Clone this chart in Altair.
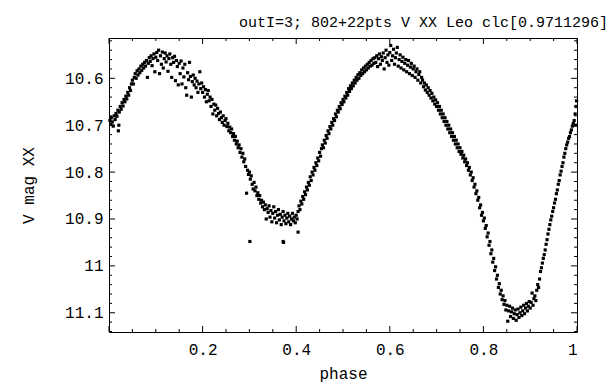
import altair as alt
import pandas as pd

# ---- data: (phase, V mag) ----
seg_00 = [(0.002,10.690),(0.004,10.698),(0.005,10.684),(0.007,10.693),(0.009,10.702),(0.011,10.680),(0.013,10.688),(0.015,10.675),(0.017,10.681),(0.019,10.668),(0.021,10.700),(0.022,10.672),(0.024,10.660),(0.026,10.666),(0.028,10.652),(0.030,10.659),(0.032,10.645),(0.034,10.650),(0.036,10.638),(0.038,10.644),(0.040,10.630),(0.042,10.636),(0.044,10.620),(0.046,10.626),(0.048,10.612)]
seg_05 = [(0.050,10.604),(0.052,10.612),(0.054,10.598),(0.056,10.590),(0.058,10.600),(0.060,10.584),(0.062,10.593),(0.064,10.580),(0.066,10.588),(0.068,10.574),(0.070,10.583),(0.072,10.570),(0.074,10.578),(0.076,10.566),(0.078,10.574),(0.080,10.562),(0.082,10.598),(0.084,10.568),(0.086,10.556),(0.088,10.564),(0.090,10.552),(0.092,10.573),(0.094,10.558),(0.096,10.548),(0.098,10.586)]
seg_10 = [(0.100,10.555),(0.102,10.545),(0.104,10.562),(0.106,10.540),(0.108,10.590),(0.110,10.552),(0.112,10.570),(0.114,10.544),(0.116,10.578),(0.118,10.558),(0.120,10.546),(0.122,10.565),(0.124,10.552),(0.126,10.585),(0.128,10.558),(0.130,10.548),(0.132,10.570),(0.134,10.598),(0.136,10.556),(0.138,10.566),(0.140,10.553),(0.142,10.605),(0.144,10.562),(0.146,10.575),(0.148,10.614)]
seg_15 = [(0.150,10.568),(0.152,10.590),(0.154,10.563),(0.156,10.612),(0.158,10.578),(0.160,10.597),(0.162,10.570),(0.164,10.620),(0.166,10.636),(0.168,10.588),(0.170,10.603),(0.172,10.566),(0.174,10.596),(0.176,10.640),(0.178,10.607),(0.180,10.593),(0.182,10.614),(0.184,10.600),(0.186,10.620),(0.188,10.606),(0.190,10.630),(0.192,10.612),(0.194,10.586),(0.196,10.622),(0.198,10.610)]
seg_20 = [(0.200,10.630),(0.202,10.618),(0.204,10.640),(0.206,10.624),(0.208,10.650),(0.210,10.634),(0.212,10.626),(0.214,10.648),(0.216,10.640),(0.218,10.660),(0.220,10.645),(0.222,10.676),(0.224,10.655),(0.226,10.668),(0.228,10.657),(0.230,10.680),(0.232,10.664),(0.234,10.675),(0.236,10.688),(0.238,10.672),(0.240,10.684),(0.242,10.694),(0.244,10.680),(0.246,10.700),(0.248,10.690)]
seg_25 = [(0.250,10.686),(0.252,10.703),(0.254,10.696),(0.256,10.712),(0.258,10.704),(0.260,10.716),(0.262,10.708),(0.264,10.724),(0.266,10.718),(0.268,10.732),(0.270,10.724),(0.272,10.740),(0.274,10.734),(0.276,10.748),(0.278,10.742),(0.280,10.758),(0.282,10.750),(0.284,10.768),(0.286,10.760),(0.288,10.778),(0.290,10.772),(0.292,10.788),(0.294,10.845),(0.296,10.796),(0.298,10.805)]
seg_30 = [(0.300,10.800),(0.302,10.815),(0.304,10.808),(0.306,10.826),(0.308,10.836),(0.310,10.822),(0.312,10.840),(0.314,10.832),(0.316,10.850),(0.318,10.844),(0.320,10.858),(0.322,10.850),(0.324,10.866),(0.326,10.860),(0.328,10.874),(0.330,10.864),(0.332,10.880),(0.334,10.870),(0.336,10.900),(0.338,10.878),(0.340,10.886),(0.342,10.872),(0.344,10.896),(0.346,10.882),(0.348,10.906)]
seg_35 = [(0.350,10.888),(0.352,10.874),(0.354,10.898),(0.356,10.884),(0.358,10.908),(0.360,10.892),(0.362,10.880),(0.364,10.902),(0.366,10.890),(0.368,10.912),(0.370,10.896),(0.372,10.884),(0.374,10.904),(0.376,10.892),(0.378,10.910),(0.380,10.898),(0.382,10.888),(0.384,10.906),(0.386,10.894),(0.388,10.912),(0.390,10.900),(0.392,10.888),(0.394,10.904),(0.396,10.896),(0.398,10.908)]
seg_40 = [(0.400,10.892),(0.402,10.900),(0.404,10.884),(0.406,10.872),(0.408,10.880),(0.410,10.862),(0.412,10.868),(0.414,10.852),(0.416,10.858),(0.418,10.842),(0.420,10.848),(0.422,10.832),(0.424,10.838),(0.426,10.822),(0.428,10.828),(0.430,10.810),(0.432,10.818),(0.434,10.800),(0.436,10.806),(0.438,10.790),(0.440,10.796),(0.442,10.780),(0.444,10.786),(0.446,10.770),(0.448,10.776)]
seg_45 = [(0.450,10.758),(0.452,10.766),(0.454,10.750),(0.456,10.742),(0.458,10.748),(0.460,10.732),(0.462,10.738),(0.464,10.722),(0.466,10.728),(0.468,10.712),(0.470,10.718),(0.472,10.703),(0.474,10.708),(0.476,10.694),(0.478,10.700),(0.480,10.686),(0.482,10.690),(0.484,10.676),(0.486,10.682),(0.488,10.668),(0.490,10.672),(0.492,10.660),(0.494,10.665),(0.496,10.652),(0.498,10.656)]
seg_50 = [(0.500,10.645),(0.502,10.650),(0.504,10.638),(0.506,10.642),(0.508,10.630),(0.510,10.636),(0.512,10.622),(0.514,10.628),(0.516,10.616),(0.518,10.622),(0.520,10.610),(0.522,10.616),(0.524,10.604),(0.526,10.610),(0.528,10.598),(0.530,10.604),(0.532,10.592),(0.534,10.600),(0.536,10.588),(0.538,10.594),(0.540,10.582),(0.542,10.590),(0.544,10.578),(0.546,10.586),(0.548,10.574)]
seg_55 = [(0.550,10.582),(0.552,10.570),(0.554,10.578),(0.556,10.566),(0.558,10.574),(0.560,10.562),(0.562,10.572),(0.564,10.558),(0.566,10.568),(0.568,10.556),(0.570,10.566),(0.572,10.552),(0.574,10.575),(0.576,10.558),(0.578,10.548),(0.580,10.570),(0.582,10.554),(0.584,10.562),(0.586,10.546),(0.588,10.580),(0.590,10.556),(0.592,10.540),(0.594,10.566),(0.596,10.550),(0.598,10.572)]
seg_60 = [(0.600,10.545),(0.602,10.530),(0.604,10.562),(0.606,10.552),(0.608,10.538),(0.610,10.570),(0.612,10.556),(0.614,10.546),(0.616,10.534),(0.618,10.574),(0.620,10.560),(0.622,10.550),(0.624,10.578),(0.626,10.564),(0.628,10.555),(0.630,10.582),(0.632,10.568),(0.634,10.560),(0.636,10.586),(0.638,10.572),(0.640,10.562),(0.642,10.590),(0.644,10.576),(0.646,10.568),(0.648,10.594)]
seg_65 = [(0.650,10.580),(0.652,10.574),(0.654,10.598),(0.656,10.586),(0.658,10.580),(0.660,10.604),(0.662,10.592),(0.664,10.586),(0.666,10.610),(0.668,10.598),(0.670,10.604),(0.672,10.618),(0.674,10.610),(0.676,10.625),(0.678,10.614),(0.680,10.630),(0.682,10.620),(0.684,10.636),(0.686,10.626),(0.688,10.642),(0.690,10.632),(0.692,10.648),(0.694,10.640),(0.696,10.655),(0.698,10.646)]
seg_70 = [(0.700,10.660),(0.702,10.652),(0.704,10.668),(0.706,10.660),(0.708,10.676),(0.710,10.668),(0.712,10.684),(0.714,10.676),(0.716,10.692),(0.718,10.684),(0.720,10.700),(0.722,10.692),(0.724,10.708),(0.726,10.700),(0.728,10.716),(0.730,10.708),(0.732,10.724),(0.734,10.716),(0.736,10.732),(0.738,10.724),(0.740,10.740),(0.742,10.732),(0.744,10.748),(0.746,10.740),(0.748,10.756)]
seg_75 = [(0.750,10.748),(0.752,10.762),(0.754,10.756),(0.756,10.770),(0.758,10.764),(0.760,10.778),(0.762,10.772),(0.764,10.786),(0.766,10.780),(0.768,10.796),(0.770,10.790),(0.772,10.806),(0.774,10.800),(0.776,10.818),(0.778,10.812),(0.780,10.832),(0.782,10.826),(0.784,10.846),(0.786,10.840),(0.788,10.860),(0.790,10.854),(0.792,10.876),(0.794,10.870),(0.796,10.892),(0.798,10.886)]
seg_80 = [(0.800,10.904),(0.802,10.898),(0.804,10.920),(0.806,10.914),(0.808,10.938),(0.810,10.930),(0.812,10.956),(0.814,10.948),(0.816,10.974),(0.818,10.966),(0.820,10.992),(0.822,10.984),(0.824,11.010),(0.826,11.002),(0.828,11.028),(0.830,11.020),(0.832,11.046),(0.834,11.038),(0.836,11.060),(0.838,11.052),(0.840,11.072),(0.842,11.064),(0.844,11.082),(0.846,11.074),(0.848,11.094)]
seg_85 = [(0.850,11.084),(0.852,11.118),(0.854,11.096),(0.856,11.086),(0.858,11.108),(0.860,11.098),(0.862,11.090),(0.864,11.112),(0.866,11.102),(0.868,11.094),(0.870,11.116),(0.872,11.104),(0.874,11.092),(0.876,11.110),(0.878,11.100),(0.880,11.088),(0.882,11.106),(0.884,11.096),(0.886,11.084),(0.888,11.102),(0.890,11.090),(0.892,11.080),(0.894,11.096),(0.896,11.086),(0.898,11.076)]
seg_90 = [(0.900,11.090),(0.902,11.078),(0.904,11.058),(0.906,11.084),(0.908,11.070),(0.910,11.064),(0.912,11.074),(0.914,11.052),(0.916,11.040),(0.918,11.046),(0.920,11.028),(0.922,11.012),(0.924,11.004),(0.926,10.994),(0.928,10.984),(0.930,10.976),(0.932,10.966),(0.934,10.954),(0.936,10.944),(0.938,10.932),(0.940,10.922),(0.942,10.912),(0.944,10.902),(0.946,10.894),(0.948,10.884)]
seg_95 = [(0.950,10.876),(0.952,10.866),(0.954,10.858),(0.956,10.846),(0.958,10.838),(0.960,10.826),(0.962,10.818),(0.964,10.806),(0.966,10.798),(0.968,10.788),(0.970,10.780),(0.972,10.768),(0.974,10.760),(0.976,10.750),(0.978,10.742),(0.980,10.736),(0.982,10.728),(0.984,10.724),(0.986,10.716),(0.988,10.710),(0.990,10.702),(0.992,10.696),(0.994,10.690),(0.996,10.676),(0.998,10.660),(0.999,10.648),(0.997,10.700)]
outliers = [(0.301,10.948),(0.372,10.948),(0.373,10.950),(0.404,10.928),(0.020,10.712)]

x_major = [0, 0.2, 0.4, 0.6, 0.8, 1]
x_minor = [0.05, 0.1, 0.15, 0.25, 0.3, 0.35, 0.45, 0.5, 0.55, 0.65, 0.7, 0.75, 0.85, 0.9, 0.95]
x_labels = [0.2, 0.4, 0.6, 0.8, 1]
y_major = [10.6, 10.7, 10.8, 10.9, 11.0, 11.1]
y_minor = [10.52, 10.54, 10.56, 10.58, 10.62, 10.64, 10.66, 10.68, 10.72, 10.74, 10.76, 10.78,
           10.82, 10.84, 10.86, 10.88, 10.92, 10.94, 10.96, 10.98, 11.02, 11.04, 11.06, 11.08,
           11.12, 11.14]

TITLE = "outI=3; 802+22pts V XX Leo clc[0.9711296]"
FONT = "Liberation Mono"
W, H = 468, 294
MAJ, MIN = 6, 3

segments = [seg_00, seg_05, seg_10, seg_15, seg_20, seg_25, seg_30, seg_35, seg_40, seg_45,
            seg_50, seg_55, seg_60, seg_65, seg_70, seg_75, seg_80, seg_85, seg_90, seg_95, outliers]
rows = [p for s in segments for p in s]
df = pd.DataFrame(rows, columns=["phase", "mag"])

TXT = dict(labelFont=FONT, labelFontSize=16, labelColor="black",
           titleFont=FONT, titleFontSize=16, titleFontWeight="normal", titleColor="black")

xs = alt.Scale(domain=[0, 1], nice=False, zero=False)
ys = alt.Scale(domain=[10.514, 11.141], nice=False, zero=False, reverse=True)
x_axis = alt.Axis(values=x_labels, title="phase", ticks=False, domain=False, grid=False,
                  labelExpr="datum.value == 1 ? '1' : format(datum.value, '.1f')",
                  labelPadding=9, titlePadding=8, **TXT)
y_axis = alt.Axis(values=y_major, title="V mag XX", ticks=False, domain=False, grid=False,
                  labelExpr="datum.value == 11 ? '11' : format(datum.value, '.1f')",
                  labelPadding=6, titlePadding=28, **TXT)
X = alt.X("phase:Q", scale=xs, axis=x_axis)
Y = alt.Y("mag:Q", scale=ys, axis=y_axis)

points = alt.Chart(df).mark_square(size=10, color="black", opacity=1).encode(x=X, y=Y)

def xticks(vals, length):
    d = pd.DataFrame({"phase": vals})
    bot = alt.Chart(d).mark_rule(color="black", strokeWidth=1).encode(
        x=X, y=alt.value(H), y2=alt.value(H - length))
    top = alt.Chart(d).mark_rule(color="black", strokeWidth=1).encode(
        x=X, y=alt.value(0), y2=alt.value(length))
    return [bot, top]

def yticks(vals, length):
    d = pd.DataFrame({"mag": vals})
    left = alt.Chart(d).mark_rule(color="black", strokeWidth=1).encode(
        y=Y, x=alt.value(0), x2=alt.value(length))
    right = alt.Chart(d).mark_rule(color="black", strokeWidth=1).encode(
        y=Y, x=alt.value(W), x2=alt.value(W - length))
    return [left, right]

layers = xticks(x_major, MAJ) + xticks(x_minor, MIN) + yticks(y_major, MAJ) + yticks(y_minor, MIN) + [points]

chart = alt.layer(*layers).properties(
    width=W, height=H,
    background="white",
    autosize=alt.AutoSizeParams(type="none"),
    padding={"left": 101, "top": 30, "right": 31, "bottom": 54},
    title=alt.TitleParams(TITLE, font=FONT, fontSize=15, fontWeight="normal", color="black",
                          anchor="end", dx=30, offset=8),
).configure_view(stroke="black", strokeWidth=1)

chart.save("out.html", embed_options={"renderer": "svg", "actions": False})
